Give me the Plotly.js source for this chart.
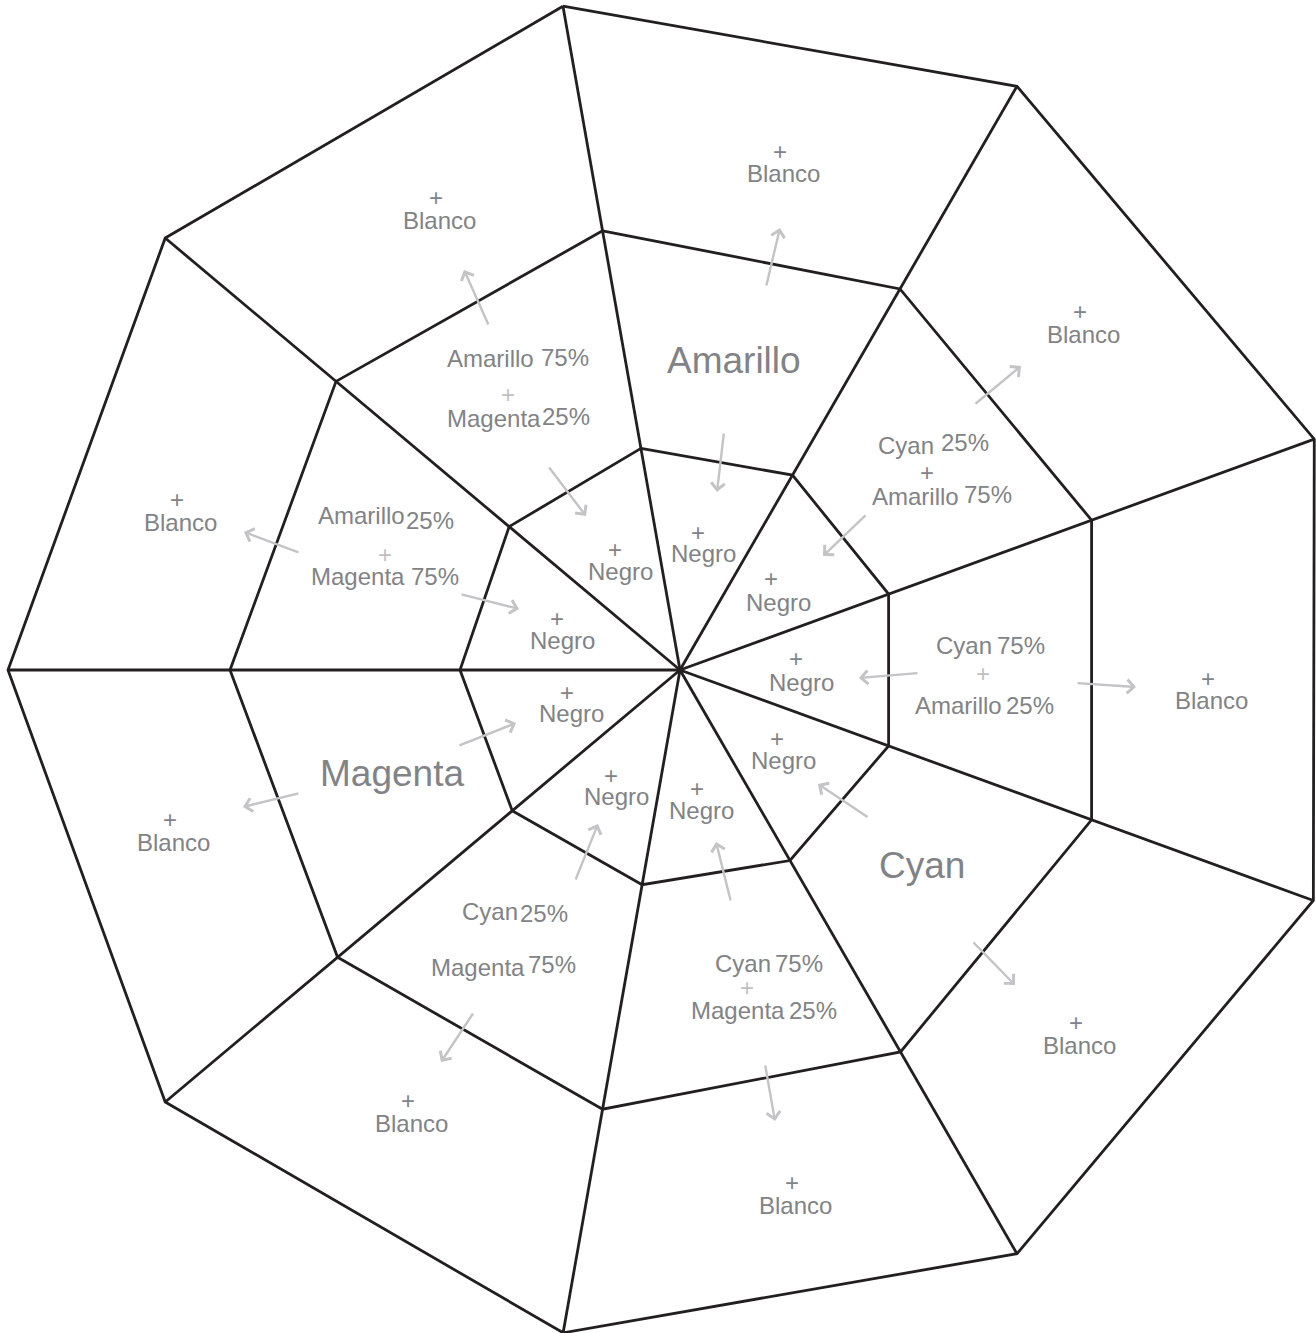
<!DOCTYPE html>
<html>
<head>
<meta charset="utf-8">
<script src="https://cdn.plot.ly/plotly-3.0.1.min.js"></script>
<style>html,body{margin:0;padding:0;background:#fff;}#chart{width:1316px;height:1333px;}</style>
</head>
<body>
<div id="chart"></div>
<script>
// ---- Structure data (angles in degrees, radii per spoke) ----
const spokeAngles = [100, 60, 20, -20, -60, -100, -140, 180, 140];
const innerRadii  = [225, 225, 222, 222, 220, 218, 219, 220, 223];
const middleRadii = [446, 440, 438, 438, 441, 446, 447, 450, 449];
const outerRadii  = [674, 674, 675, 674, 674, 673, 672, 672, 672];

// ---- Text data ----
const innerWord = "Negro";
const outerWord = "Blanco";
const plusSign = "+";
const primaryNames = ["Amarillo", "Magenta", "Cyan"];
const mixNames = ["Amarillo", "Magenta", "Amarillo", "Magenta", "Cyan", "Magenta", "Cyan", "Magenta", "Cyan", "Amarillo", "Cyan", "Amarillo"];
const mixPercents = ["75%", "25%", "25%", "75%", "25%", "75%", "75%", "25%", "75%", "25%", "25%", "75%"];

// ---- Layout (pixel positions of labels in the 1316x1333 frame) ----
const CX = 680, CY = 670;
const px = (x) => x - CX;
const py = (y) => CY - y;

const innerPlusPos = [[698,532],[615,549],[557,618],[567,692],[611,775],[697,788],[777,738],[796,658],[771,578]];
const innerWordPos = [[703,553],[620,571],[562,640],[571,713],[616,796],[701,810],[783,760],[801,682],[778,602]];
const outerPlusPos = [[780,151],[436,197],[177,499],[170,819],[408,1100],[792,1182],[1076,1022],[1208,678],[1080,311]];
const outerWordPos = [[783,173],[439,220],[180,522],[173,842],[411,1123],[795,1205],[1079,1045],[1211,700],[1083,334]];
const primaryPos = [[734,360],[392,773],[922,865]];
const mixNamePos = [[490,358],[494,418],[361,515],[358,576],[490,911],[478,967],[743,963],[738,1010],[964,645],[958,705],[906,445],[915,496]];
const mixPctPos  = [[565,357],[566,416],[430,520],[435,576],[544,913],[552,964],[799,963],[813,1010],[1021,645],[1030,705],[965,442],[988,494]];
const mixPlusPos = [[508,394,"l"],[385,554,"l"],[747,987,"l"],[983,673,"l"],[927,472,"d"]];
// arrows: [tailX, tailY, headX, headY]
const arrowPos = [
  [766,287,780,228],[724,432,717,492],
  [489,326,464,270],[548,466,586,516],
  [300,553,244,532],[460,594,519,609],
  [300,793,243,807],[458,746,516,723],
  [575,881,598,824],[474,1012,441,1062],
  [731,902,716,842],[765,1064,775,1121],
  [869,818,818,784],[972,941,1015,985],
  [919,673,859,678],[1076,683,1136,687],
  [974,405,1021,366],[867,514,823,556]
];

// ---- Styles ----
const LINE = '#231f20';
const TXT = '#818386';
const LIGHT = '#bfc0c2';
const ARROW = '#c3c4c6';
const FONT = '"Liberation Sans", Arial, Helvetica, sans-serif';

// ---- Build traces ----
function ringTrace(radii) {
  const xs = [], ys = [];
  for (let i = 0; i <= spokeAngles.length; i++) {
    const k = i % spokeAngles.length;
    const a = spokeAngles[k] * Math.PI / 180;
    xs.push(radii[k] * Math.cos(a));
    ys.push(radii[k] * Math.sin(a));
  }
  return {x: xs, y: ys, mode: 'lines', type: 'scatter', line: {color: LINE, width: 2.8}, hoverinfo: 'skip', showlegend: false};
}
const spX = [], spY = [];
spokeAngles.forEach((d, k) => {
  const a = d * Math.PI / 180;
  spX.push(0, outerRadii[k] * Math.cos(a), null);
  spY.push(0, outerRadii[k] * Math.sin(a), null);
});
const traces = [
  ringTrace(innerRadii), ringTrace(middleRadii), ringTrace(outerRadii),
  {x: spX, y: spY, mode: 'lines', type: 'scatter', line: {color: LINE, width: 2.8}, hoverinfo: 'skip', showlegend: false}
];

// ---- Annotations ----
const ann = [];
function txt(t, p, size, color) {
  ann.push({x: px(p[0]), y: py(p[1]), xref: 'x', yref: 'y', text: t, showarrow: false,
    xanchor: 'center', yanchor: 'middle', font: {family: FONT, size: size, color: color}});
}
innerPlusPos.forEach(p => txt(plusSign, p, 24, TXT));
innerWordPos.forEach(p => txt(innerWord, p, 24, TXT));
outerPlusPos.forEach(p => txt(plusSign, p, 24, TXT));
outerWordPos.forEach(p => txt(outerWord, p, 24, TXT));
primaryNames.forEach((n, i) => txt(n, primaryPos[i], 37, TXT));
mixNames.forEach((n, i) => txt(n, mixNamePos[i], 24, TXT));
mixPercents.forEach((n, i) => txt(n, mixPctPos[i], 24, TXT));
mixPlusPos.forEach(p => txt(plusSign, p, 24, p[2] === 'l' ? LIGHT : TXT));
arrowPos.forEach(a => {
  ann.push({x: px(a[2]), y: py(a[3]), ax: px(a[0]), ay: py(a[1]), xref: 'x', yref: 'y', axref: 'x', ayref: 'y',
    text: '', showarrow: true, arrowhead: 4, arrowsize: 1.1, arrowwidth: 2.4, arrowcolor: ARROW, standoff: 0, startstandoff: 0});
});

const layout = {
  width: 1316, height: 1333,
  margin: {l: 0, r: 0, t: 0, b: 0},
  paper_bgcolor: '#ffffff', plot_bgcolor: '#ffffff',
  xaxis: {range: [px(0), px(1316)], visible: false, showgrid: false, zeroline: false, fixedrange: true},
  yaxis: {range: [py(1333), py(0)], visible: false, showgrid: false, zeroline: false, fixedrange: true},
  annotations: ann,
  showlegend: false
};
Plotly.newPlot('chart', traces, layout, {staticPlot: true, displayModeBar: false});
</script>
</body>
</html>
